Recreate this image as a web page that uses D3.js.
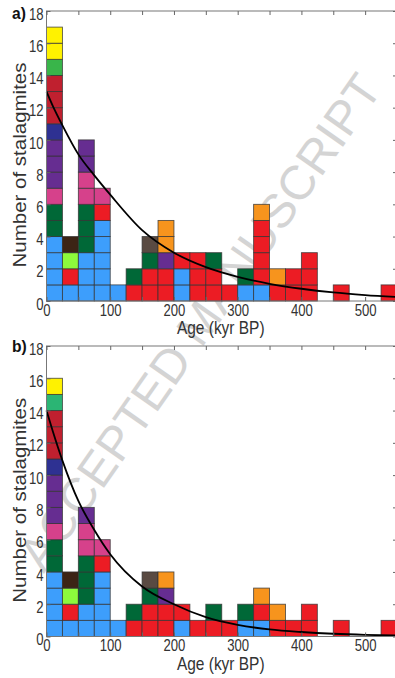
<!DOCTYPE html>
<html>
<head>
<meta charset="utf-8">
<script src="https://cdn.jsdelivr.net/npm/d3@7"></script>
<style>
  body { margin: 0; background: #fff; }
  svg { display: block; }
  text { font-family: "Liberation Sans", Arial, sans-serif; }
</style>
</head>
<body>
<svg id="chart" width="395" height="678"></svg>
<script>
// 25 kyr bins
const binStarts = [0,25,50,75,100,125,150,175,200,225,250,275,300,325,350,375,400,425,450,475,500,525];
const binWidth = 25;

// each bin: one letter per stalagmite, bottom to top (letter = colour group)
const stacksA = ['bbbbggkpppncccmyy','brld','bbbgggkkpp','bbbbbrk','b','rg','rrgs','rrpoo','bbr','rrr','rrg','r',
                 'bg','brrrro','ro','rr','rrr','','r','','','r'];
const stacksB = ['bbbbggkpppncccty','brld','bbgggkkp','bbbbrk','b','rg','rrgs','rrpo','br','r','rg','r',
                 'bg','bro','ro','r','rr','','r','','','r'];

// fitted decay curves
const fitAges = [0,10,25,50,75,100,150,200,250,300,350,400,450,500,550];
const fitA    = [13.0,12.1,10.9,9.1,7.8,6.6,4.4,3.0,2.1,1.5,1.07,0.76,0.53,0.37,0.25];
const fitB    = [14.0,12.7,10.9,8.4,6.6,5.1,3.1,2.0,1.2,0.72,0.44,0.28,0.17,0.1,0.06];

const yTicks = [0,2,4,6,8,10,12,14,16,18];
const xTicks = [0,50,100,150,200,250,300,350,400,450,500,550];
const xLabels = [0,100,200,300,400,500];

const colors = {
  b: '#3d9efc', r: '#ec1c24', c: '#c0202f', g: '#006837', k: '#d6418b', p: '#662d91',
  n: '#2e3192', y: '#fff200', m: '#39b54a', t: '#2bb574', l: '#8dfa3c', d: '#3c2415',
  s: '#594a42', o: '#f7941d'
};

const svg = d3.select('#chart');
const left = 46.5, right = 397;
const x = d3.scaleLinear().domain([0, 550]).range([left, right]);
const SX = 0.82; // figure text is slightly condensed

// watermark behind the plots
svg.append('text')
  .attr('transform', 'translate(200,322) rotate(-55)')
  .attr('text-anchor', 'middle').attr('dominant-baseline', 'central')
  .attr('font-size', 48).attr('fill', '#d4d4d4')
  .text('ACCEPTED MANUSCRIPT');

function panel(top, bottom, stacks, fit, tag, tagY){
  const y = d3.scaleLinear().domain([0, 18]).range([bottom, top]);
  const g = svg.append('g');

  // stacked cells
  stacks.forEach((s, i) => {
    const x0 = x(binStarts[i]), x1 = x(binStarts[i] + binWidth);
    s.split('').forEach((c, j) => {
      g.append('rect')
        .attr('x', x0).attr('y', y(j + 1))
        .attr('width', x1 - x0).attr('height', y(j) - y(j + 1))
        .attr('fill', colors[c])
        .attr('stroke', '#333').attr('stroke-opacity', 0.8).attr('stroke-width', 0.9);
    });
  });

  // fitted curve
  const line = d3.line().x((d, i) => x(fitAges[i])).y(d => y(d)).curve(d3.curveMonotoneX);
  g.append('path').datum(fit).attr('d', line)
    .attr('fill', 'none').attr('stroke', '#000').attr('stroke-width', 1.8);

  // frame
  g.append('rect').attr('x', left).attr('y', top).attr('width', right - left).attr('height', bottom - top)
    .attr('fill', 'none').attr('stroke', '#777').attr('stroke-width', 1);

  const tick = 4;
  const ax = (sel, axis) => { sel.call(axis); sel.select('.domain').remove();
    sel.selectAll('.tick line').attr('stroke', '#666'); };

  const bot = g.append('g').attr('transform', `translate(0,${bottom})`);
  ax(bot, d3.axisBottom(x).tickValues(xTicks).tickSizeInner(-tick).tickSizeOuter(0)
    .tickFormat(d => xLabels.includes(d) ? d : ''));
  bot.selectAll('.tick text').attr('y', 3.5).attr('dy', '0.71em')
    .attr('font-size', 16).attr('fill', '#333').attr('transform', `scale(${SX},1)`);

  const topAx = g.append('g').attr('transform', `translate(0,${top})`);
  ax(topAx, d3.axisTop(x).tickValues(xTicks).tickSizeInner(-tick).tickSizeOuter(0).tickFormat(''));

  const lft = g.append('g').attr('transform', `translate(${left},0)`);
  ax(lft, d3.axisLeft(y).tickValues(yTicks).tickSizeInner(-tick).tickSizeOuter(0).tickPadding(3.5));
  lft.selectAll('.tick text').attr('y', 3).attr('font-size', 16).attr('fill', '#333')
    .attr('transform', `scale(${SX},1)`);

  const rgt = g.append('g').attr('transform', `translate(${right},0)`);
  ax(rgt, d3.axisRight(y).tickValues(yTicks).tickSizeInner(-tick).tickSizeOuter(0).tickFormat(''));

  // axis titles
  g.append('text')
    .attr('transform', `translate(26,${(top + bottom) / 2 + 9}) scale(0.86,1) rotate(-90)`)
    .attr('text-anchor', 'middle').attr('font-size', 20.5).attr('fill', '#333')
    .text('Number of stalagmites');
  g.append('text')
    .attr('transform', `translate(${(left + right) / 2 - 1},${bottom + 33}) scale(0.86,1)`)
    .attr('text-anchor', 'middle').attr('font-size', 18).attr('fill', '#333')
    .text('Age (kyr BP)');

  g.append('text')
    .attr('transform', `translate(12,${tagY}) scale(0.92,1)`)
    .attr('font-size', 17).attr('font-weight', 'bold').attr('fill', '#111')
    .text(tag);
}

panel(11, 301, stacksA, fitA, 'a)', 19);
panel(346, 636.5, stacksB, fitB, 'b)', 351.5);
</script>
</body>
</html>
